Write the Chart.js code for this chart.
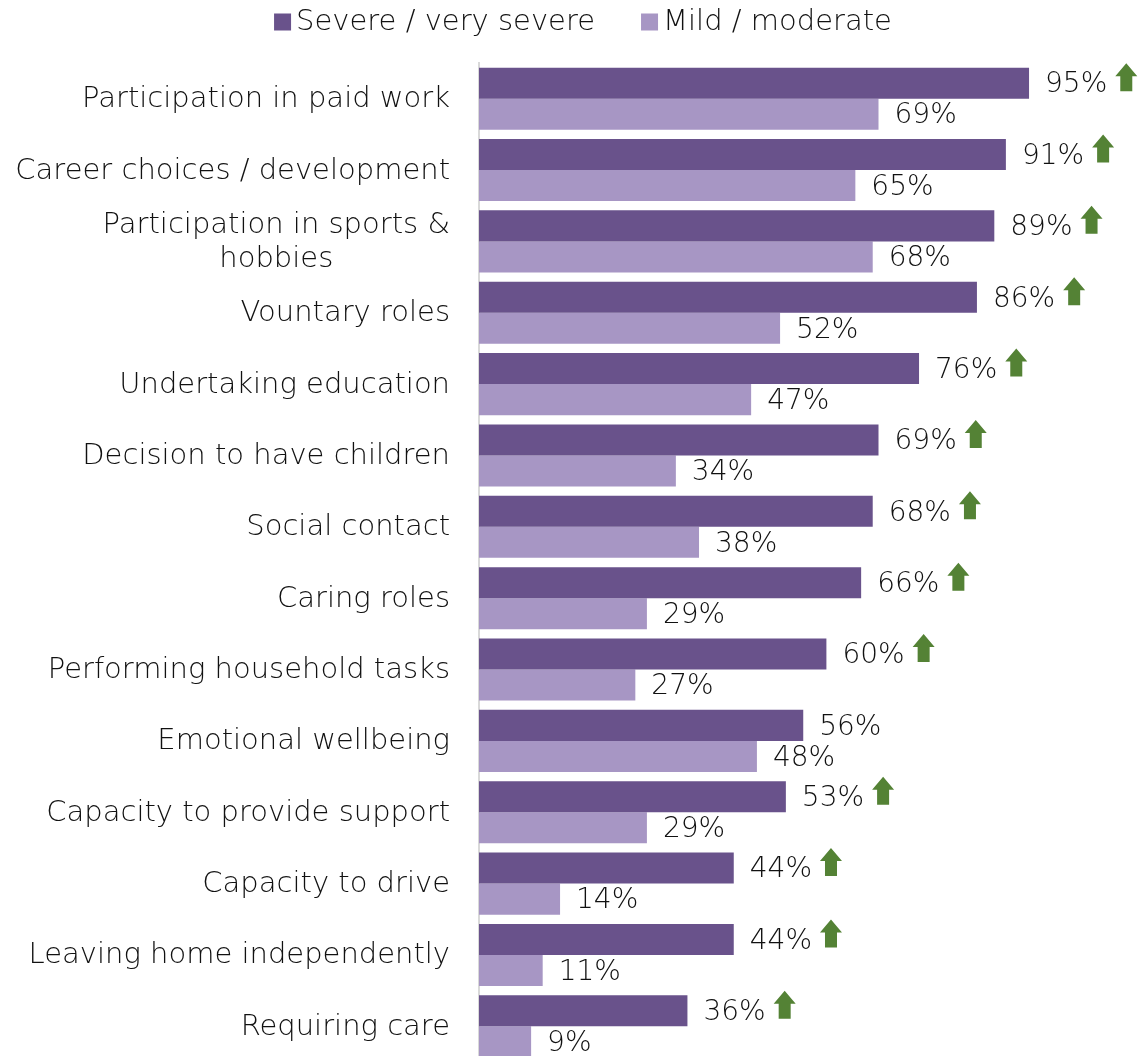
<!DOCTYPE html>
<html>
<head>
<meta charset="utf-8">
<script src="https://cdn.jsdelivr.net/npm/chart.js@4/dist/chart.umd.min.js"></script>
<style>
  html, body { margin: 0; padding: 0; background: #fff; overflow: hidden; }
  #wrap { width: 1140px; height: 1062px; }
</style>
</head>
<body>
<div id="wrap"><canvas id="myChart" width="1140" height="1062"></canvas></div>
<script>
// Categories (multi-line labels given as arrays)
const categories = [
    'Participation in paid work',
    'Career choices / development',
    ['Participation in sports &', 'hobbies'],
    'Vountary roles',
    'Undertaking education',
    'Decision to have children',
    'Social contact',
    'Caring roles',
    'Performing household tasks',
    'Emotional wellbeing',
    'Capacity to provide support',
    'Capacity to drive',
    'Leaving home independently',
    'Requiring care'
];

const severeValues = [95, 91, 89, 86, 76, 69, 68, 66, 60, 56, 53, 44, 44, 36];
const mildValues = [69, 65, 68, 52, 47, 34, 38, 29, 27, 48, 29, 14, 11, 9];
// green arrow shown next to the severe value
const showArrow = [true, true, true, true, true, true, true, true, true, false, true, true, true, true];

const FONT = '"DejaVu Sans", sans-serif';
const TEXT = '#111111';

// Category names, value labels, arrows and the legend
const annotate = {
    id: 'annotate',
    afterDraw(chart) {
        const ctx = chart.ctx;
        const area = chart.chartArea;
        const yScale = chart.scales.y;
        ctx.save();
        ctx.fillStyle = TEXT;

        // category labels, right aligned next to the axis
        ctx.font = '200 29px ' + FONT;
        ctx.textBaseline = 'middle';
        categories.forEach((cat, i) => {
            const y = yScale.getPixelForValue(i) + 1;
            const right = area.left - 29;
            if (Array.isArray(cat)) {
                const w = Math.max(...cat.map(l => ctx.measureText(l).width));
                const cx = right - w / 2;
                const lh = 34;
                ctx.textAlign = 'center';
                cat.forEach((line, k) => {
                    ctx.fillText(line, cx, y + (k - (cat.length - 1) / 2) * lh);
                });
            } else {
                ctx.textAlign = 'right';
                ctx.fillText(cat, right, y);
            }
        });

        // value labels
        ctx.font = '200 28px ' + FONT;
        ctx.textAlign = 'left';
        chart.data.datasets.forEach((ds, d) => {
            const meta = chart.getDatasetMeta(d);
            meta.data.forEach((bar, i) => {
                const txt = ds.data[i] + '%';
                const x = bar.x + 16;
                ctx.fillStyle = TEXT;
                ctx.fillText(txt, x, bar.y + 2);
                if (d === 0 && showArrow[i]) {
                    const ax = x + ctx.measureText(txt).width + 19;
                    drawArrow(ctx, ax, bar.y - 6);
                }
            });
        });

        // legend
        ctx.font = '200 29px ' + FONT;
        ctx.textAlign = 'left';
        const items = chart.data.datasets.map(ds => ({ text: ds.label, color: ds.backgroundColor }));
        const box = 17, gap = 5, spacing = 46;
        const widths = items.map(it => box + gap + ctx.measureText(it.text).width);
        const total = widths.reduce((a, b) => a + b, 0) + spacing * (items.length - 1);
        let x = 583 - total / 2;
        const ly = 22;
        items.forEach((it, k) => {
            ctx.fillStyle = it.color;
            ctx.fillRect(x, ly - box / 2, box, box);
            ctx.fillStyle = TEXT;
            ctx.fillText(it.text, x + box + gap, ly);
            x += widths[k] + spacing;
        });
        ctx.restore();
    }
};

function drawArrow(ctx, cx, cy) {
    const h = 28, hw = 11, sw = 6, head = 13;
    const top = cy - h / 2, bottom = cy + h / 2;
    ctx.fillStyle = '#548235';
    ctx.beginPath();
    ctx.moveTo(cx, top);
    ctx.lineTo(cx + hw, top + head);
    ctx.lineTo(cx + sw, top + head);
    ctx.lineTo(cx + sw, bottom);
    ctx.lineTo(cx - sw, bottom);
    ctx.lineTo(cx - sw, top + head);
    ctx.lineTo(cx - hw, top + head);
    ctx.closePath();
    ctx.fill();
}

const ctx1 = document.getElementById('myChart').getContext('2d');
const myChart = new Chart(ctx1, {
    type: 'bar',
    data: {
        labels: categories,
        datasets: [{
            label: 'Severe / very severe',
            data: severeValues,
            backgroundColor: '#69528b'
        }, {
            label: 'Mild / moderate',
            data: mildValues,
            backgroundColor: '#a796c4'
        }]
    },
    options: {
        indexAxis: 'y',
        responsive: false,
        animation: false,
        datasets: {
            bar: { categoryPercentage: 0.87, barPercentage: 1.0 }
        },
        layout: { padding: { top: 63, left: 108, right: 82, bottom: 0 } },
        scales: {
            x: { display: false, min: 0, max: 100 },
            y: {
                afterFit(scale) { scale.width = 371; },
                ticks: { display: false },
                grid: { display: false },
                border: { display: true, color: '#d9d9d9', width: 2 }
            }
        },
        plugins: {
            legend: { display: false },
            tooltip: { enabled: false }
        }
    },
    plugins: [annotate]
});
</script>
</body>
</html>
